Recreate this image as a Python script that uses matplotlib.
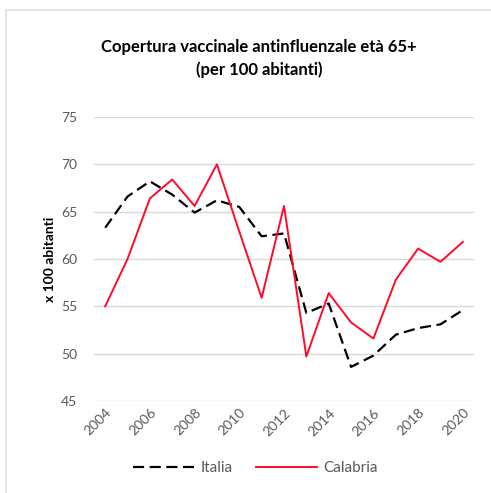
import matplotlib.pyplot as plt
from matplotlib.lines import Line2D
from matplotlib.patches import Rectangle

years = list(range(2004, 2021))
italia = [63.3, 66.6, 68.2, 66.8, 64.9, 66.2, 65.5, 62.4, 62.7, 54.3, 55.3, 48.6, 49.8, 52.0, 52.7, 53.1, 54.6]
calabria = [55.0, 60.0, 66.4, 68.4, 65.6, 70.0, 62.9, 55.9, 65.6, 49.7, 56.4, 53.3, 51.6, 57.8, 61.1, 59.7, 61.8]
tick_years = [str(y) for y in years[::2]]

plt.rcParams['font.family'] = ['Lato', 'DejaVu Sans']
grey = '#595959'

fig = plt.figure(figsize=(4.91, 4.93), dpi=100)
ax = fig.add_axes([94 / 491, 92 / 493, 380 / 491, 284 / 493])

x = list(range(len(years)))
ax.plot(x, italia, color='black', linewidth=1.6, linestyle=(0, (5, 2.5)), label='Italia')
ax.plot(x, calabria, color='#ff0a2a', linewidth=1.4, label='Calabria')

ax.set_xlim(-0.5, len(years) - 0.5)
ax.set_ylim(45, 75)
ax.set_yticks(range(45, 80, 5))
ax.set_xticks(x[::2])
ax.set_xticklabels(tick_years, rotation=45, ha='right', rotation_mode='anchor')
ax.tick_params(axis='both', length=0, colors=grey, labelsize=10)
ax.tick_params(axis='y', pad=12)
ax.tick_params(axis='x', pad=4)
ax.grid(axis='y', color='#d9d9d9', linewidth=1)
ax.set_axisbelow(True)
for s in ax.spines.values():
    s.set_visible(False)

ax.set_ylabel('x 100 abitanti', fontsize=10, fontweight='bold', labelpad=4)

fig.text(0.527, 0.882, 'Copertura vaccinale antinfluenzale età 65+\n(per 100 abitanti)',
         ha='center', va='center', fontsize=12, fontweight='bold', linespacing=1.45)

handles = [Line2D([], [], color='black', linewidth=1.6, linestyle=(0, (5, 2.5))),
           Line2D([], [], color='#ff0a2a', linewidth=1.4)]
fig.legend(handles, ['Italia', 'Calabria'], loc='center', bbox_to_anchor=(0.52, 0.05),
           ncol=2, frameon=False, fontsize=11, labelcolor=grey,
           handlelength=4, columnspacing=1.5, handletextpad=0.4)

# faint chart frame (top and left visible)
fig.add_artist(Rectangle((6 / 491, -0.1), 1.2, (493 - 10) / 493 + 0.1, transform=fig.transFigure,
                         fill=False, edgecolor='#e0e0e0', linewidth=1.2))

fig.savefig('out.png', dpi=100)
